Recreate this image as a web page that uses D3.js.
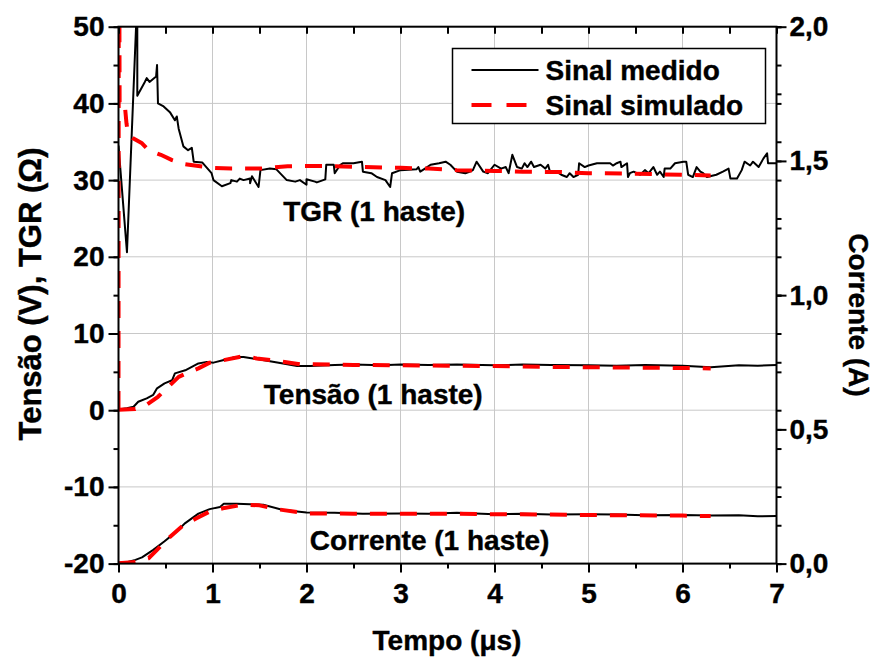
<!DOCTYPE html>
<html>
<head>
<meta charset="utf-8">
<script src="https://cdn.jsdelivr.net/npm/d3@7"></script>
<style>
  body { margin: 0; background: #fff; }
  svg text { font-family: "Liberation Sans", Arial, sans-serif; font-weight: bold; fill: #000; }
</style>
</head>
<body>
<svg id="chart"></svg>
<script>
// ---- data (time in µs) ----
// TGR, left axis (Ω)
const tgrMedido = [[0.00,34.5],[0.09,20.6],[0.20,54.0],[0.20,41.0],[0.28,42.8],[0.30,43.3],[0.33,42.8],[0.40,43.5],[0.41,45.0],[0.42,40.0],[0.48,39.6],[0.55,38.8],[0.60,37.8],[0.62,38.3],[0.64,36.7],[0.69,34.4],[0.74,33.9],[0.78,34.2],[0.80,32.4],[0.89,32.3],[0.99,30.9],[1.01,30.0],[1.10,29.2],[1.19,29.6],[1.20,30.0],[1.26,29.8],[1.29,30.2],[1.33,30.0],[1.40,30.2],[1.40,29.6],[1.42,30.5],[1.49,29.1],[1.51,31.3],[1.61,31.5],[1.68,31.4],[1.79,30.0],[1.88,29.8],[1.93,30.0],[2.00,29.4],[2.00,30.1],[2.09,29.8],[2.11,29.7],[2.20,30.1],[2.21,32.0],[2.29,32.0],[2.30,30.9],[2.36,32.0],[2.39,32.2],[2.50,32.2],[2.59,32.4],[2.60,31.1],[2.69,30.9],[2.75,30.4],[2.84,30.0],[2.89,29.1],[2.91,30.9],[3.00,31.3],[3.17,31.4],[3.19,31.7],[3.21,31.1],[3.26,31.5],[3.32,32.0],[3.41,32.2],[3.48,32.4],[3.53,32.0],[3.60,31.1],[3.69,30.9],[3.74,31.1],[3.77,31.3],[3.81,32.4],[3.88,31.1],[3.93,30.9],[4.00,32.0],[4.07,31.5],[4.12,31.7],[4.15,30.9],[4.19,33.3],[4.24,31.7],[4.29,31.5],[4.32,32.2],[4.35,31.7],[4.39,32.4],[4.42,31.7],[4.49,32.0],[4.54,31.5],[4.57,32.0],[4.59,31.1],[4.66,31.1],[4.71,30.7],[4.77,30.4],[4.80,30.9],[4.84,30.4],[4.89,30.7],[4.90,32.2],[4.96,31.7],[5.00,31.9],[5.09,32.2],[5.16,32.2],[5.23,32.2],[5.26,31.9],[5.30,32.2],[5.34,32.4],[5.35,31.7],[5.41,32.2],[5.42,30.4],[5.44,30.9],[5.48,31.1],[5.55,30.7],[5.60,31.3],[5.64,30.9],[5.69,31.7],[5.73,30.7],[5.76,31.1],[5.80,30.4],[5.81,31.5],[5.87,31.5],[5.92,32.2],[6.01,32.4],[6.04,32.4],[6.06,30.7],[6.11,30.4],[6.15,31.7],[6.19,31.1],[6.22,30.9],[6.26,30.4],[6.36,30.7],[6.43,31.1],[6.49,31.5],[6.51,30.2],[6.58,30.2],[6.63,31.3],[6.66,32.4],[6.72,31.9],[6.75,32.4],[6.81,31.7],[6.86,32.8],[6.90,33.5],[6.91,32.2],[6.97,32.2],[7.00,32.2]];
const tgrSimulado = [[0.000,0.3],[0.004,80],[0.012,39.4],[0.07,39.4],[0.085,37.4],[0.10,36.1],[0.15,35.5],[0.25,34.8],[0.32,33.9],[0.45,33.3],[0.57,32.6],[0.70,32.1],[0.87,31.8],[1.0,31.6],[1.2,31.5],[1.5,31.5],[1.8,31.8],[2.2,31.85],[2.6,31.7],[3.0,31.6],[3.3,31.5],[3.6,31.3],[4.0,31.2],[4.3,31.1],[4.7,31.05],[5.0,30.9],[5.4,30.85],[5.8,30.75],[6.3,30.6]];

// Tensão, left axis (V)
const tensaoMedida = [[0,0.1],[0.09,0.25],[0.16,0.45],[0.21,1.1],[0.30,1.55],[0.37,2.0],[0.41,2.85],[0.49,3.5],[0.57,3.9],[0.60,4.8],[0.71,5.2],[0.78,5.65],[0.85,6.1],[0.94,6.3],[1.01,6.2],[1.11,6.5],[1.19,6.75],[1.24,6.95],[1.33,6.95],[1.43,6.75],[1.58,6.45],[1.75,6.1],[1.90,5.75],[2.04,5.75],[2.3,5.9],[2.5,5.95],[2.8,5.85],[3.0,5.95],[3.3,5.9],[3.6,5.95],[4.0,5.85],[4.3,5.95],[4.6,5.9],[5.0,5.85],[5.3,5.8],[5.6,5.9],[6.0,5.8],[6.3,5.6],[6.6,5.85],[6.8,5.8],[7.0,5.9]];
const tensaoSimulada = [[0,0.05],[0.18,0.15],[0.30,0.7],[0.42,1.75],[0.53,3.05],[0.64,4.35],[0.76,5.0],[0.85,5.45],[0.97,6.2],[1.11,6.5],[1.33,7.05],[1.47,6.75],[1.68,6.45],[1.93,6.0],[2.5,5.9],[3.0,5.85],[3.5,5.8],[4.0,5.75],[4.5,5.65],[5.0,5.6],[5.5,5.55],[6.0,5.5],[6.3,5.45]];

// Corrente, right axis (A)
const correnteMedida = [[0,0.003],[0.1,0.006],[0.18,0.014],[0.25,0.023],[0.37,0.051],[0.49,0.083],[0.62,0.120],[0.71,0.151],[0.85,0.186],[0.97,0.203],[1.08,0.211],[1.12,0.223],[1.26,0.223],[1.4,0.221],[1.54,0.219],[1.75,0.200],[2.0,0.190],[2.3,0.189],[2.6,0.186],[3.0,0.187],[3.3,0.186],[3.6,0.189],[4.0,0.184],[4.3,0.186],[4.6,0.183],[5.0,0.184],[5.3,0.183],[5.6,0.180],[6.0,0.181],[6.3,0.179],[6.6,0.180],[6.8,0.176],[7.0,0.177]];
const correnteSimulada = [[0,0.001],[0.18,0.006],[0.32,0.020],[0.41,0.051],[0.53,0.094],[0.69,0.143],[0.83,0.169],[0.97,0.194],[1.11,0.206],[1.33,0.220],[1.5,0.217],[1.68,0.203],[2.0,0.187],[2.5,0.186],[3.0,0.186],[3.5,0.186],[4.0,0.184],[4.5,0.183],[5.0,0.181],[5.5,0.180],[6.0,0.179],[6.3,0.177]];

const xTicks = [0, 1, 2, 3, 4, 5, 6, 7];
const yTicks = [-20, -10, 0, 10, 20, 30, 40, 50];
const y2Ticks = [0, 0.5, 1.0, 1.5, 2.0];
const legendLabels = ['Sinal medido', 'Sinal simulado'];
const curveLabels = [
  { text: 'TGR (1 haste)', t: 2.72, v: 24.7 },
  { text: 'Tensão (1 haste)', t: 2.71, v: 0.8 },
  { text: 'Corrente (1 haste)', t: 3.31, v: -18.2 }
];

class TimeChart {
  constructor(_config) {
    this.config = {
      parentElement: _config.parentElement,
      containerWidth: 876,
      containerHeight: 659,
      margin: { top: 26.7, right: 99.5, bottom: 95.4, left: 118.5 },
      fontSize: 28
    };
    this.initVis();
  }

  initVis() {
    let vis = this;
    vis.width = vis.config.containerWidth - vis.config.margin.left - vis.config.margin.right;
    vis.height = vis.config.containerHeight - vis.config.margin.top - vis.config.margin.bottom;

    vis.xScale = d3.scaleLinear().domain([0, 7]).range([0, vis.width]);
    vis.yScale = d3.scaleLinear().domain([-20, 50]).range([vis.height, 0]);
    vis.y2Scale = d3.scaleLinear().domain([0, 2]).range([vis.height, 0]);

    vis.svg = d3.select(vis.config.parentElement)
      .attr('width', vis.config.containerWidth)
      .attr('height', vis.config.containerHeight);

    vis.chart = vis.svg.append('g')
      .attr('transform', `translate(${vis.config.margin.left},${vis.config.margin.top})`);

    vis.svg.append('defs').append('clipPath').attr('id', 'plot-clip')
      .append('rect').attr('width', vis.width).attr('height', vis.height);

    vis.renderVis();
  }

  renderVis() {
    let vis = this;
    const fs = vis.config.fontSize;

    // grid
    const grid = vis.chart.append('g').attr('class', 'grid');
    grid.selectAll('.vgrid').data(xTicks.slice(1, -1)).join('line')
      .attr('x1', d => vis.xScale(d)).attr('x2', d => vis.xScale(d))
      .attr('y1', 0).attr('y2', vis.height)
      .attr('stroke', '#c8c8c8').attr('stroke-width', 1);
    grid.selectAll('.hgrid').data(yTicks.slice(1, -1)).join('line')
      .attr('y1', d => vis.yScale(d)).attr('y2', d => vis.yScale(d))
      .attr('x1', 0).attr('x2', vis.width)
      .attr('stroke', '#c8c8c8').attr('stroke-width', 1);

    // lines
    const lineL = d3.line().x(d => vis.xScale(d[0])).y(d => vis.yScale(d[1]));
    const lineR = d3.line().x(d => vis.xScale(d[0])).y(d => vis.y2Scale(d[1]));
    const plot = vis.chart.append('g').attr('clip-path', 'url(#plot-clip)');

    const series = [
      { data: tgrMedido, line: lineL, sim: false },
      { data: tensaoMedida, line: lineL, sim: false },
      { data: correnteMedida, line: lineR, sim: false },
      { data: tgrSimulado, line: lineL, sim: true },
      { data: tensaoSimulada, line: lineL, sim: true },
      { data: correnteSimulada, line: lineR, sim: true }
    ];
    plot.selectAll('.series').data(series).join('path')
      .attr('class', 'series')
      .attr('d', d => d.line(d.data))
      .attr('fill', 'none')
      .attr('stroke', d => d.sim ? '#ff0000' : '#000')
      .attr('stroke-width', d => d.sim ? 4 : 2)
      .attr('stroke-dasharray', d => d.sim ? '17,13' : null)
      .attr('stroke-linejoin', 'round');

    // axes
    const minorX = d3.range(0, 7.01, 0.5);
    const minorY = d3.range(-20, 50.1, 5);
    const minorY2 = d3.range(0, 2.01, 0.25);

    const xAxis = d3.axisBottom(vis.xScale).tickValues(xTicks).tickSize(9).tickPadding(11)
      .tickFormat(d => String(d));
    const xMinor = d3.axisBottom(vis.xScale).tickValues(minorX).tickSize(5).tickFormat('');
    const xTop = d3.axisBottom(vis.xScale).tickValues(minorX).tickSize(7).tickFormat('');
    const yAxis = d3.axisLeft(vis.yScale).tickValues(yTicks).tickSize(10).tickPadding(4)
      .tickFormat(d => String(d));
    const yMinor = d3.axisLeft(vis.yScale).tickValues(minorY).tickSize(5).tickFormat('');
    const yMirror = d3.axisLeft(vis.yScale).tickValues(minorY).tickSize(5).tickFormat('');
    const y2Axis = d3.axisRight(vis.y2Scale).tickValues(y2Ticks).tickSize(10).tickPadding(3)
      .tickFormat(d => d3.format('.1f')(d).replace('.', ','));
    const y2Minor = d3.axisRight(vis.y2Scale).tickValues(minorY2).tickSize(5).tickFormat('');

    const styleAxis = g => {
      g.select('.domain').remove();
      g.selectAll('line').attr('stroke', '#000').attr('stroke-width', 2);
      g.selectAll('text').attr('font-size', fs).attr('fill', '#000')
        .attr('stroke', '#000').attr('stroke-width', 0.4)
        .attr('font-family', '"Liberation Sans", Arial, sans-serif').attr('font-weight', 'bold');
    };

    vis.chart.append('g').attr('transform', `translate(0,${vis.height})`).call(xMinor).call(styleAxis);
    vis.chart.append('g').attr('transform', `translate(0,${vis.height})`).call(xAxis).call(styleAxis);
    vis.chart.append('g').call(xTop).call(styleAxis);
    vis.chart.append('g').call(yMinor).call(styleAxis);
    vis.chart.append('g').call(yAxis).call(styleAxis);
    vis.chart.append('g').attr('transform', `translate(${vis.width + 5},0)`).call(yMirror).call(styleAxis);
    vis.chart.append('g').attr('transform', `translate(${vis.width},0)`).call(y2Minor).call(styleAxis);
    vis.chart.append('g').attr('transform', `translate(${vis.width},0)`).call(y2Axis).call(styleAxis);

    // frame
    vis.chart.append('rect')
      .attr('width', vis.width).attr('height', vis.height)
      .attr('fill', 'none').attr('stroke', '#000').attr('stroke-width', 2);

    // curve labels
    vis.chart.selectAll('.curve-label').data(curveLabels).join('text')
      .attr('class', 'curve-label')
      .attr('x', d => vis.xScale(d.t))
      .attr('y', d => vis.yScale(d.v))
      .attr('text-anchor', 'middle')
      .attr('font-size', fs)
      .attr('stroke', '#000').attr('stroke-width', 0.4)
      .text(d => d.text);

    // legend
    const legend = vis.chart.append('g').attr('transform', `translate(${452.5 - vis.config.margin.left},${48.5 - vis.config.margin.top})`);
    legend.append('rect')
      .attr('width', 313).attr('height', 75)
      .attr('fill', '#fff').attr('stroke', '#000').attr('stroke-width', 1.5);
    legend.selectAll('.legend-line').data(legendLabels).join('line')
      .attr('x1', 19).attr('x2', 86)
      .attr('y1', (d, i) => 21.5 + i * 35).attr('y2', (d, i) => 21.5 + i * 35)
      .attr('stroke', (d, i) => i ? '#ff0000' : '#000')
      .attr('stroke-width', (d, i) => i ? 4 : 2)
      .attr('stroke-dasharray', (d, i) => i ? '20,15' : null);
    legend.selectAll('.legend-text').data(legendLabels).join('text')
      .attr('x', 93).attr('y', (d, i) => 31 + i * 35.5)
      .attr('font-size', fs)
      .attr('stroke', '#000').attr('stroke-width', 0.4)
      .text(d => d);

    // axis titles
    vis.svg.append('text')
      .attr('x', 447).attr('y', 650)
      .attr('text-anchor', 'middle').attr('font-size', fs)
      .attr('stroke', '#000').attr('stroke-width', 0.4)
      .text('Tempo (μs)');
    vis.svg.append('text')
      .attr('transform', 'translate(41,294) rotate(-90)')
      .attr('text-anchor', 'middle').attr('font-size', 31)
      .attr('stroke', '#000').attr('stroke-width', 0.4)
      .text('Tensão (V), TGR (Ω)');
    vis.svg.append('text')
      .attr('transform', 'translate(849,315) rotate(90)')
      .attr('text-anchor', 'middle').attr('font-size', fs)
      .attr('stroke', '#000').attr('stroke-width', 0.4)
      .text('Corrente (A)');
  }
}

const chart = new TimeChart({ parentElement: '#chart' });
</script>
</body>
</html>
